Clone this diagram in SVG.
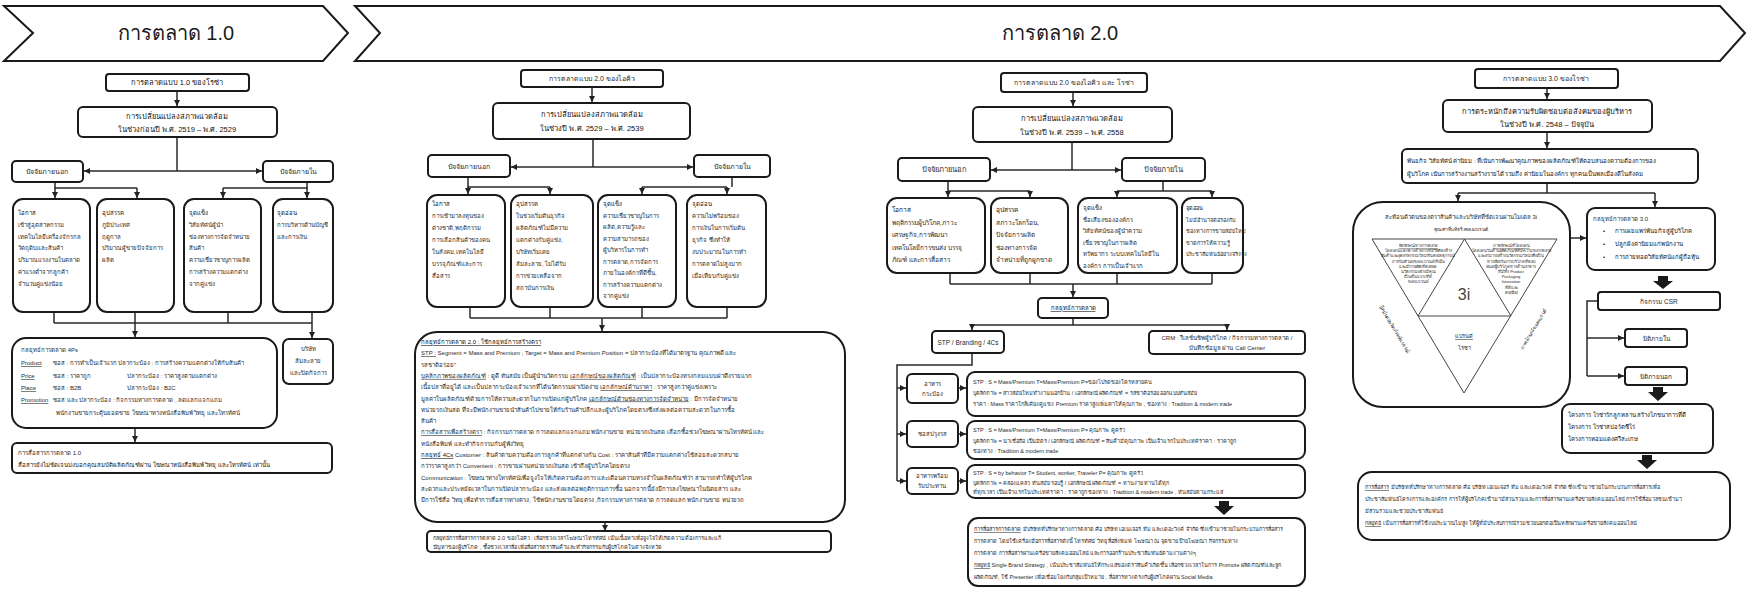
<svg xmlns="http://www.w3.org/2000/svg" width="1749" height="589" viewBox="0 0 1749 589">
<defs>
<marker id="ah" viewBox="0 0 10 10" refX="10" refY="5" markerWidth="6" markerHeight="6" markerUnits="userSpaceOnUse" orient="auto"><path d="M0,0 L10,5 L0,10 z" fill="#222"/></marker>
<style>
.bx{fill:#fff;stroke:#1a1a1a;stroke-width:2}
.c{fill:none;stroke:#2a2a2a;stroke-width:1.5}
.ca{fill:none;stroke:#2a2a2a;stroke-width:1.5;marker-end:url(#ah)}
.ba{fill:#1a1a1a}
.tri{fill:none;stroke:#444;stroke-width:1}
text{font-family:"Liberation Sans","Noto Sans","DejaVu Sans",sans-serif;fill:#2a2a2a}
.m{text-anchor:middle}
.f4{font-size:4px}
.f5{font-size:5px}
.f55{font-size:5.5px}
.f6{font-size:6px}
.f65{font-size:6.5px}
.f7{font-size:7px}
.f75{font-size:7.5px}
.f8{font-size:8px}
.ti{font-size:20px;fill:#1a1a1a}
.u{text-decoration:underline}
.h{fill:#111}
</style>
</defs>
<rect width="1749" height="589" fill="#fff"/>

<g id="banner1">
<path class="bx" d="M4,6 L323,6 L348,33 L323,61 L4,61 L33,33 Z"/>
<text class="ti m" x="176" y="40">การตลาด 1.0</text>
</g>
<g id="banner2">
<path class="bx" d="M355,6 L1720,6 L1745,33 L1720,61 L355,61 L380,33 Z"/>
<text class="ti m" x="1060" y="40">การตลาด 2.0</text>
</g>

<g id="connectors">
<path class="ca" d="M177,91 V106"/>
<path class="c" d="M177,137 V171"/>
<path class="ca" d="M177,171 H84"/>
<path class="ca" d="M177,171 H262"/>
<path class="c" d="M55,182 V188 H137"/>
<path class="ca" d="M55,188 V198"/>
<path class="ca" d="M137,188 V198"/>
<path class="c" d="M307,182 V188 H223"/>
<path class="ca" d="M223,188 V198"/>
<path class="ca" d="M307,188 V198"/>
<path class="c" d="M54,312 V323 M135,312 V323 M228,312 V323 M312,312 V323 M54,323 H312"/>
<path class="ca" d="M135,323 V337"/>
<path class="ca" d="M312,323 V338"/>
<path class="ca" d="M135,428 V442"/>

<path class="ca" d="M592,87 V102"/>
<path class="c" d="M593,139 V167"/>
<path class="ca" d="M593,167 H511"/>
<path class="ca" d="M593,167 H693"/>
<path class="c" d="M468,177 V187 H550"/>
<path class="ca" d="M468,187 V194"/>
<path class="ca" d="M550,187 V194"/>
<path class="c" d="M732,177 V187 M642,187 H727"/>
<path class="ca" d="M642,187 V194"/>
<path class="ca" d="M727,187 V194"/>
<path class="c" d="M470,307 V318 M550,307 V318 M642,307 V318 M727,307 V318 M470,318 H727"/>
<path class="ca" d="M602,318 V331"/>
<path class="ca" d="M605,522 V531"/>

<path class="ca" d="M1073,92 V106"/>
<path class="c" d="M1072,142 V170"/>
<path class="ca" d="M1072,170 H991"/>
<path class="ca" d="M1072,170 H1121"/>
<path class="c" d="M948,181 V191 H1030"/>
<path class="ca" d="M948,191 V197"/>
<path class="ca" d="M1030,191 V197"/>
<path class="c" d="M1163,181 V191 M1117,191 H1212"/>
<path class="ca" d="M1117,191 V197"/>
<path class="ca" d="M1212,191 V197"/>
<path class="c" d="M950,273 V284 M1030,273 V284 M1117,273 V284 M1212,273 V284 M950,284 H1212"/>
<path class="ca" d="M1073,284 V297"/>
<path class="c" d="M1073,318 V325 M972,325 H1227"/>
<path class="ca" d="M972,325 V330"/>
<path class="ca" d="M1227,325 V330"/>
<path class="c" d="M972,353 V365 H897 V481"/>
<path class="ca" d="M897,388 H906"/>
<path class="ca" d="M897,434 H906"/>
<path class="ca" d="M897,481 H906"/>
<path class="ca" d="M958,388 H966"/>
<path class="ca" d="M958,434 H966"/>
<path class="ca" d="M958,481 H966"/>
<path class="ba" d="M1219,501 h10 v5 h5 l-10,9 l-10,-9 h5 z"/>

<path class="ca" d="M1547,88 V99"/>
<path class="ca" d="M1547,132 V148"/>
<path class="c" d="M1547,183 V193 M1458,193 H1655"/>
<path class="ca" d="M1458,193 V201"/>
<path class="ca" d="M1655,193 V207"/>
<path class="ca" d="M1571,238 H1586"/>
<path class="ba" d="M1658,276 h10 v5 h5 l-10,8 l-10,-8 h5 z"/>
<path class="c" d="M1598,301 H1587 V376"/>
<path class="ca" d="M1587,338 H1624"/>
<path class="ca" d="M1587,376 H1624"/>
<path class="ba" d="M1653,387 h10 v5 h5 l-10,9 l-10,-9 h5 z"/>
<path class="ba" d="M1642,455 h10 v5 h5 l-10,9 l-10,-9 h5 z"/>
</g>

<g id="s1-title">
<rect class="bx" x="106" y="74" width="143" height="17" rx="3"/>
<text class="f75 m h" x="177" y="85">การตลาดแบบ 1.0 ของโรซ่า</text>
</g>
<g id="s1-env">
<rect class="bx" x="78" y="107" width="199" height="30" rx="5"/>
<text class="f75 m h" x="177" y="119">การเปลี่ยนแปลงสภาพแวดล้อม</text>
<text class="f75 m h" x="177" y="132">ในช่วงก่อนปี พ.ศ. 2519 – พ.ศ. 2529</text>
</g>
<g id="s1-ext">
<rect class="bx" x="12" y="161" width="71" height="21" rx="4"/>
<text class="f7 m" x="47" y="174">ปัจจัยภายนอก</text>
</g>
<g id="s1-int">
<rect class="bx" x="263" y="161" width="70" height="21" rx="4"/>
<text class="f7 m" x="298" y="174">ปัจจัยภายใน</text>
</g>
<g id="s1-opp">
<rect class="bx" x="13" y="199" width="77" height="113" rx="10"/>
<text class="f6" x="18" y="215"><tspan class="h">โอกาส</tspan><tspan x="18" dy="11.8">เข้าสู่อุตสาหกรรม</tspan><tspan x="18" dy="11.8">เทคโนโลยีเครื่องจักรกล</tspan><tspan x="18" dy="11.8">วัตถุดิบและสินค้า</tspan><tspan x="18" dy="11.8">ปริมาณแรงงานในตลาด</tspan><tspan x="18" dy="11.8">ค่าแรงต่ำจากลูกค้า</tspan><tspan x="18" dy="11.8">จำนวนคู่แข่งน้อย</tspan></text>
</g>
<g id="s1-thr">
<rect class="bx" x="97" y="199" width="77" height="113" rx="10"/>
<text class="f6" x="102" y="215"><tspan class="h">อุปสรรค</tspan><tspan x="102" dy="11.8">ภูมิประเทศ</tspan><tspan x="102" dy="11.8">ฤดูกาล</tspan><tspan x="102" dy="11.8">ปริมาณผู้ขายปัจจัยการ</tspan><tspan x="102" dy="11.8">ผลิต</tspan></text>
</g>
<g id="s1-str">
<rect class="bx" x="184" y="199" width="77" height="113" rx="10"/>
<text class="f6" x="189" y="215"><tspan class="h">จุดแข็ง</tspan><tspan x="189" dy="11.8">วิสัยทัศน์ผู้นำ</tspan><tspan x="189" dy="11.8">ช่องทางการจัดจำหน่าย</tspan><tspan x="189" dy="11.8">สินค้า</tspan><tspan x="189" dy="11.8">ความเชี่ยวชาญการผลิต</tspan><tspan x="189" dy="11.8">การสร้างความแตกต่าง</tspan><tspan x="189" dy="11.8">จากคู่แข่ง</tspan></text>
</g>
<g id="s1-weak">
<rect class="bx" x="273" y="199" width="60" height="113" rx="10"/>
<text class="f6" x="277" y="215"><tspan class="h">จุดอ่อน</tspan><tspan x="277" dy="11.8">การบริหารด้านบัญชี</tspan><tspan x="277" dy="11.8">และการเงิน</tspan></text>
</g>
<g id="s1-4ps">
<rect class="bx" x="12" y="338" width="265" height="90" rx="14"/>
<text class="f6" x="21" y="352">กลยุทธ์การตลาด 4Ps</text>
<text class="f6" x="21" y="365"><tspan class="u">Product</tspan><tspan x="53">ซอส : การทำเป็นเจ้าแรก</tspan><tspan x="118">ปลากระป๋อง : การสร้างความแตกต่างให้กับสินค้า</tspan></text>
<text class="f6" x="21" y="378"><tspan class="u">Price</tspan><tspan x="53">ซอส : ราคาถูก</tspan><tspan x="127">ปลากระป๋อง : ราคาสูงตามแตกต่าง</tspan></text>
<text class="f6" x="21" y="390"><tspan class="u">Place</tspan><tspan x="53">ซอส : B2B</tspan><tspan x="127">ปลากระป๋อง : B2C</tspan></text>
<text class="f6" x="21" y="402"><tspan class="u">Promotion</tspan><tspan x="53">ซอส และ ปลากระป๋อง : กิจกรรมทางการตลาด , ลดแลกแจกแถม</tspan></text>
<text class="f6" x="56" y="415">พนักงานขายกระตุ้นยอดขาย โฆษณาทางหนังสือพิมพ์ วิทยุ และโทรทัศน์</text>
</g>
<g id="s1-bankrupt">
<rect class="bx" x="283" y="339" width="50" height="45" rx="6"/>
<text class="f6 m" x="308" y="351"><tspan>บริษัท</tspan><tspan x="308" dy="12">ล้มละลาย</tspan><tspan x="308" dy="12">และปิดกิจการ</tspan></text>
</g>
<g id="s1-comm">
<rect class="bx" x="12" y="443" width="320" height="30" rx="5"/>
<text class="f6" x="18" y="455">การสื่อสารการตลาด 1.0</text>
<text class="f6 h" x="18" y="467">สื่อสารยังไม่ชัดเจนบ่งบอกคุณสมบัติผลิตภัณฑ์ผ่าน โฆษณาหนังสือพิมพ์ วิทยุ และโทรทัศน์ เท่านั้น</text>
</g>

<g id="s2a-title">
<rect class="bx" x="521" y="70" width="142" height="17" rx="3"/>
<text class="f7 m" x="592" y="81">การตลาดแบบ 2.0 ของไอคิว</text>
</g>
<g id="s2a-env">
<rect class="bx" x="493" y="103" width="197" height="36" rx="5"/>
<text class="f75 m h" x="592" y="117">การเปลี่ยนแปลงสภาพแวดล้อม</text>
<text class="f75 m h" x="592" y="131">ในช่วงปี พ.ศ. 2529 – พ.ศ. 2539</text>
</g>
<g id="s2a-ext">
<rect class="bx" x="428" y="155" width="82" height="22" rx="4"/>
<text class="f7 m" x="469" y="169">ปัจจัยภายนอก</text>
</g>
<g id="s2a-int">
<rect class="bx" x="694" y="155" width="76" height="22" rx="4"/>
<text class="f7 m" x="732" y="169">ปัจจัยภายใน</text>
</g>
<g id="s2a-opp">
<rect class="bx" x="427" y="195" width="78" height="112" rx="10"/>
<text class="f6" x="432" y="206"><tspan class="h">โอกาส</tspan><tspan x="432" dy="12">การเข้ามาลงทุนของ</tspan><tspan x="432" dy="12">ต่างชาติ,พฤติกรรม</tspan><tspan x="432" dy="12">การเลือกสินค้าของคน</tspan><tspan x="432" dy="12">ในสังคม,เทคโนโลยี</tspan><tspan x="432" dy="12">บรรจุภัณฑ์และการ</tspan><tspan x="432" dy="12">สื่อสาร</tspan></text>
</g>
<g id="s2a-thr">
<rect class="bx" x="511" y="195" width="82" height="112" rx="10"/>
<text class="f6" x="516" y="206"><tspan class="h">อุปสรรค</tspan><tspan x="516" dy="12">ในช่วงเริ่มต้นธุรกิจ</tspan><tspan x="516" dy="12">ผลิตภัณฑ์ไม่มีความ</tspan><tspan x="516" dy="12">แตกต่างกับคู่แข่ง,</tspan><tspan x="516" dy="12">บริษัทเริ่มเคย</tspan><tspan x="516" dy="12">ล้มละลาย, ไม่ได้รับ</tspan><tspan x="516" dy="12">การช่วยเหลือจาก</tspan><tspan x="516" dy="12">สถาบันการเงิน</tspan></text>
</g>
<g id="s2a-str">
<rect class="bx" x="598" y="195" width="78" height="112" rx="10"/>
<text class="f6" x="603" y="206"><tspan class="h">จุดแข็ง</tspan><tspan x="603" dy="11.5">ความเชี่ยวชาญในการ</tspan><tspan x="603" dy="11.5">ผลิต,ความรู้และ</tspan><tspan x="603" dy="11.5">ความสามารถของ</tspan><tspan x="603" dy="11.5">ผู้บริหารในการทำ</tspan><tspan x="603" dy="11.5">การตลาด,การจัดการ</tspan><tspan x="603" dy="11.5">ภายในองค์กรที่ดีขึ้น,</tspan><tspan x="603" dy="11.5">การสร้างความแตกต่าง</tspan><tspan x="603" dy="11.5">จากคู่แข่ง</tspan></text>
</g>
<g id="s2a-weak">
<rect class="bx" x="687" y="195" width="79" height="112" rx="10"/>
<text class="f6" x="692" y="206"><tspan class="h">จุดอ่อน</tspan><tspan x="692" dy="12">ความไม่พร้อมของ</tspan><tspan x="692" dy="12">การเงินในการเริ่มต้น</tspan><tspan x="692" dy="12">ธุรกิจ ซึ่งทำให้</tspan><tspan x="692" dy="12">งบประมาณในการทำ</tspan><tspan x="692" dy="12">การตลาดไม่สูงมาก</tspan><tspan x="692" dy="12">เมื่อเทียบกับคู่แข่ง</tspan></text>
</g>
<g id="s2a-strategy">
<rect class="bx" x="415" y="332" width="430" height="190" rx="22"/>
<text class="f6" x="421" y="344">
<tspan class="u h">กลยุทธ์การตลาด 2.0 : ใช้กลยุทธ์การสร้างตรา</tspan>
<tspan x="421" dy="11.3"><tspan class="u">STP :</tspan> Segment = Mass and Premium , Target = Mass and Premium  Position = ปลากระป๋องที่ได้มาตรฐาน คุณภาพดี และ</tspan>
<tspan x="421" dy="11.3">รสชาติอร่อย"</tspan>
<tspan x="421" dy="11.3"><tspan class="u">บุคลิกภาพของผลิตภัณฑ์</tspan> : ดูดี ทันสมัย เป็นผู้นำนวัตกรรม <tspan class="u">เอกลักษณ์ของผลิตภัณฑ์</tspan> : เป็นปลากระป๋องทรงกลมแบบฝาดึงรายแรก</tspan>
<tspan x="421" dy="11.3">เนื้อปลาที่อยู่ได้ และเป็นปลากระป๋องเจ้าแรกที่ได้นวัตกรรมฝาเปิดง่าย <tspan class="u">เอกลักษณ์ด้านราคา</tspan> : ราคาสูงกว่าคู่แข่งเพราะ</tspan>
<tspan x="421" dy="11.3">มูลค่าในผลิตภัณฑ์ด้วยการให้ความสะดวกในการเปิดแก่ผู้บริโภค <tspan class="u">เอกลักษณ์ด้านช่องทางการจัดจำหน่าย</tspan> : มีการจัดจำหน่าย</tspan>
<tspan x="421" dy="11.3">หน่วยรถเงินสด ที่จะมีพนักงานขายนำสินค้าไปขายให้กับร้านค้าปลีกและผู้บริโภคโดยตรงซึ่งส่งผลต่อความสะดวกในการซื้อ</tspan>
<tspan x="421" dy="11.3">สินค้า</tspan>
<tspan x="421" dy="11.3"><tspan class="u">การสื่อสารเพื่อสร้างตรา</tspan> : กิจกรรมการตลาด การลดแลกแจกแถม พนักงานขาย หน่วยรถเงินสด เลือกซื้อช่วงโฆษณาผ่านโทรทัศน์ และ</tspan>
<tspan x="421" dy="11.3">หนังสือพิมพ์ และทำกิจกรรมกับผู้ฟังวิทยุ</tspan>
<tspan x="421" dy="11.3"><tspan class="u h">กลยุทธ์ 4Cs</tspan> Customer : สินค้าตามความต้องการลูกค้าที่แตกต่างกัน Cost : ราคาสินค้าที่มีความแตกต่างใช้สอยสะดวกสบาย</tspan>
<tspan x="421" dy="11.3">กว่าราคาสูงกว่า Convenient : การขายผ่านหน่วยรถเงินสด เข้าถึงผู้บริโภคโดยตรง</tspan>
<tspan x="421" dy="11.3">Communication : โฆษณาทางโทรทัศน์เพื่อจูงใจให้เกิดความต้องการ และเตือนความทรงจำในผลิตภัณฑ์ว่า สามารถทำให้ผู้บริโภค</tspan>
<tspan x="421" dy="11.3">สะดวกและประหยัดเวลาในการเปิดปลากระป๋อง และส่งผลต่อพฤติกรรมการซื้อ นอกจากนี้ยังมีการลงโฆษณาในนิตยสาร และ</tspan>
<tspan x="421" dy="11.3">มีการใช้สื่อ วิทยุ เพื่อทำการสื่อสารทางตรง, ใช้พนักงานขายโดยตรง ,กิจกรรมทางการตลาด การลดแลก พนักงานขาย หน่วยรถ</tspan>
</text>
</g>
<g id="s2a-comm">
<rect class="bx" x="427" y="531" width="404" height="21" rx="4"/>
<text class="f55" x="433" y="540">กลยุทธ์การสื่อสารการตลาด 2.0  ของไอคิว : เลือกช่วงเวลาโฆษณาโทรทัศน์ เน้นเนื้อหาเพื่อจูงใจให้เกิดความต้องการและแก้</text>
<text class="f55" x="433" y="549">ปัญหาของผู้บริโภค , ซื้อช่วงเวลาสื่อ เพื่อสื่อสารตราสินค้าและทำกิจกรรมกับผู้บริโภคในต่างจังหวัด</text>
</g>

<g id="s2b-title">
<rect class="bx" x="1001" y="73" width="146" height="19" rx="3"/>
<text class="f7 m" x="1074" y="85">การตลาดแบบ 2.0 ของไอคิว และ โรซ่า</text>
</g>
<g id="s2b-env">
<rect class="bx" x="973" y="107" width="199" height="35" rx="5"/>
<text class="f75 m h" x="1072" y="121">การเปลี่ยนแปลงสภาพแวดล้อม</text>
<text class="f75 m h" x="1072" y="135">ในช่วงปี พ.ศ. 2539 – พ.ศ. 2558</text>
</g>
<g id="s2b-ext">
<rect class="bx" x="898" y="158" width="92" height="23" rx="4"/>
<text class="f75 m" x="944" y="172">ปัจจัยภายนอก</text>
</g>
<g id="s2b-int">
<rect class="bx" x="1122" y="158" width="83" height="23" rx="4"/>
<text class="f75 m" x="1163" y="172">ปัจจัยภายใน</text>
</g>
<g id="s2b-opp">
<rect class="bx" x="887" y="198" width="98" height="75" rx="10"/>
<text class="f65" x="892" y="212"><tspan class="h">โอกาส</tspan><tspan x="892" dy="12.5">พฤติกรรมผู้บริโภค,ภาวะ</tspan><tspan x="892" dy="12.5">เศรษฐกิจ,การพัฒนา</tspan><tspan x="892" dy="12.5">เทคโนโลยีการขนส่ง บรรจุ</tspan><tspan x="892" dy="12.5">ภัณฑ์ และการสื่อสาร</tspan></text>
</g>
<g id="s2b-thr">
<rect class="bx" x="991" y="198" width="77" height="75" rx="10"/>
<text class="f65" x="996" y="212"><tspan class="h">อุปสรรค</tspan><tspan x="996" dy="12.5">สภาวะโลกร้อน,</tspan><tspan x="996" dy="12.5">ปัจจัยการผลิต</tspan><tspan x="996" dy="12.5">ช่องทางการจัด</tspan><tspan x="996" dy="12.5">จำหน่ายที่ถูกผูกขาด</tspan></text>
</g>
<g id="s2b-str">
<rect class="bx" x="1078" y="198" width="99" height="75" rx="10"/>
<text class="f6" x="1083" y="210"><tspan class="h">จุดแข็ง</tspan><tspan x="1083" dy="11.5">ชื่อเสียงขององค์กร</tspan><tspan x="1083" dy="11.5">วิสัยทัศน์ของผู้นำความ</tspan><tspan x="1083" dy="11.5">เชี่ยวชาญในการผลิต</tspan><tspan x="1083" dy="11.5">ทรัพยากร ระบบเทคโนโลยีใน</tspan><tspan x="1083" dy="11.5">องค์กร การเป็นเจ้าแรก</tspan></text>
</g>
<g id="s2b-weak">
<rect class="bx" x="1182" y="198" width="61" height="75" rx="10"/>
<text class="f55" x="1186" y="210"><tspan class="h">จุดอ่อน</tspan><tspan x="1186" dy="11.5">ไม่มีอำนาจต่อรองกับ</tspan><tspan x="1186" dy="11.5">ช่องทางการขายสมัยใหม่</tspan><tspan x="1186" dy="11.5">ขาดการให้ความรู้</tspan><tspan x="1186" dy="11.5">ประชาสัมพันธ์อย่างจริงจัง</tspan></text>
</g>
<g id="s2b-strategy">
<rect class="bx" x="1038" y="298" width="70" height="20" rx="4"/>
<text class="f6 m u h" x="1073" y="310">กลยุทธ์การตลาด</text>
</g>
<g id="s2b-stp">
<rect class="bx" x="932" y="331" width="72" height="22" rx="4"/>
<text class="f65 m" x="968" y="345">STP / Branding / 4Cs</text>
</g>
<g id="s2b-crm">
<rect class="bx" x="1149" y="331" width="156" height="23" rx="4"/>
<text class="f6 m" x="1227" y="340">CRM : รีเลชั่นชิพผู้บริโภค / กิจกรรมทางการตลาด /</text>
<text class="f6 m" x="1227" y="350">บันทึกข้อมูล ผ่าน Call Center</text>
</g>
<g id="s2b-can">
<rect class="bx" x="907" y="374" width="51" height="29" rx="5"/>
<text class="f6 m" x="932" y="386"><tspan>อาหาร</tspan><tspan x="932" dy="10">กระป๋อง</tspan></text>
</g>
<g id="s2b-sauce">
<rect class="bx" x="907" y="421" width="51" height="26" rx="5"/>
<text class="f6 m" x="932" y="436">ซอสปรุงรส</text>
</g>
<g id="s2b-rte">
<rect class="bx" x="907" y="468" width="51" height="26" rx="5"/>
<text class="f6 m" x="932" y="478"><tspan>อาหารพร้อม</tspan><tspan x="932" dy="10">รับประทาน</tspan></text>
</g>
<g id="s2b-d1">
<rect class="bx" x="967" y="372" width="338" height="44" rx="8"/>
<text class="f55" x="973" y="384"><tspan>STP : S = Mass/Premium T=Mass/Premium P=ของโปรดของใครหลายคน</tspan><tspan x="973" dy="11">บุคลิกภาพ = สาวสมัยใหม่ทำงานนอกบ้าน / เอกลักษณ์ ผลิตภัณฑ์ = รสชาติอร่อย ออกแบบทันสมัย</tspan><tspan x="973" dy="11">ราคา : Mass ราคาใกล้เคียงคู่แข่ง Premium ราคาสูงเพิ่มค่าให้คุณภาพ , ช่องทาง : Tradition &amp; modern trade</tspan></text>
</g>
<g id="s2b-d2">
<rect class="bx" x="967" y="421" width="338" height="38" rx="8"/>
<text class="f55" x="973" y="432"><tspan>STP : S = Mass/Premium T=Mass/Premium P= คุณภาพ คู่ครัว</tspan><tspan x="973" dy="10.5">บุคลิกภาพ = น่าเชื่อถือ เป็นมิตร / เอกลักษณ์ ผลิตภัณฑ์ = สินค้ามีคุณภาพ เป็นเจ้าแรกในประเทศ ราคา : ราคาถูก</tspan><tspan x="973" dy="10.5">ช่องทาง : Tradition &amp; modern trade</tspan></text>
</g>
<g id="s2b-d3">
<rect class="bx" x="967" y="465" width="338" height="33" rx="8"/>
<text class="f55" x="973" y="475"><tspan>STP : S = by behavior T= Student, worker, Traveler P= คุณภาพ คู่ครัว</tspan><tspan x="973" dy="9.5">บุคลิกภาพ = คล่องแคล่ว ทันสมัย รอบรู้ / เอกลักษณ์ ผลิตภัณฑ์ = ทานง่าย ทานได้ทุก</tspan><tspan x="973" dy="9.5">ที่ทุกเวลา เป็นเจ้าแรกในประเทศ ราคา : ราคาถูก ช่องทาง : Tradition &amp; modern trade , ทันสมัยตามกระแส</tspan></text>
</g>
<g id="s2b-comm">
<rect class="bx" x="968" y="518" width="337" height="68" rx="10"/>
<text class="f55" x="974" y="531"><tspan><tspan class="u">การสื่อสารการตลาด</tspan> มีบริษัทที่ปรึกษาทางการตลาด คือ บริษัท เอเนเจอร์ ทีม และเดอะวิงค์ จำกัด ซึ่งเข้ามาช่วยในกระบวนการสื่อสาร</tspan><tspan x="974" dy="12">การตลาด โดยใช้เครื่องมือการสื่อสารดังนี้ โทรทัศน์ วิทยุ สื่อสิ่งพิมพ์ โฆษณา ณ จุดขาย ป้ายโฆษณา กิจกรรมทาง</tspan><tspan x="974" dy="12">การตลาด การสื่อสารผ่านเครือข่ายสังคมออนไลน์ และการออกร้านประชาสัมพันธ์ตามงานต่างๆ</tspan><tspan x="974" dy="12"><tspan class="u">กลยุทธ์</tspan> Single Brand Strategy , เน้นประชาสัมพันธ์ให้กระแสของตราสินค้าเกิดขึ้น เลือกช่วงเวลาในการ Promote ผลิตภัณฑ์และลูก</tspan><tspan x="974" dy="12">ผลิตภัณฑ์, ใช้ Presenter เพื่อเชื่อมโยงกับกลุ่มเป้าหมาย , สื่อสารทางตรงกับผู้บริโภคผ่าน Social Media</tspan></text>
</g>

<g id="s3-title">
<rect class="bx" x="1475" y="69" width="143" height="19" rx="3"/>
<text class="f7 m" x="1546" y="81">การตลาดแบบ 3.0 ของโรซ่า</text>
</g>
<g id="s3-csr">
<rect class="bx" x="1443" y="100" width="209" height="32" rx="5"/>
<text class="f75 m h" x="1547" y="114">การตระหนักถึงความรับผิดชอบต่อสังคมของผู้บริหาร</text>
<text class="f75 m h" x="1547" y="127">ในช่วงปี พ.ศ. 2548 – ปัจจุบัน</text>
</g>
<g id="s3-mission">
<rect class="bx" x="1402" y="149" width="296" height="34" rx="5"/>
<text class="f6 h" x="1407" y="163">พันธกิจ วิสัยทัศน์ ค่านิยม : ที่เน้นการพัฒนาคุณภาพของผลิตภัณฑ์ให้ตอบสนองความต้องการของ</text>
<text class="f6 h" x="1407" y="176">ผู้บริโภค เน้นการสร้างงานสร้างรายได้ รวมถึง ค่านิยมในองค์กร ทุกคนเป็นพลเมืองดีในสังคม</text>
</g>
<g id="s3-3i">
<rect class="bx" x="1353" y="202" width="217" height="205" rx="30"/>
<text class="f6 m" x="1461" y="219">สะท้อนตัวตนของตราสินค้าและบริษัทที่ชัดเจนผ่านโมเดล 3i</text>
<text class="f5 m" x="1461" y="231" fill="#666">คุณค่าที่แท้จริงของแบรนด์</text>
<path class="tri" d="M1372,239 L1557,239 L1464,393 Z"/>
<path class="tri" d="M1418,316 L1511,316 L1464.5,239 Z"/>
<text class="m" x="1464" y="300" style="font-size:16px;fill:#444">3i</text>
<text class="f4 m" x="1418" y="247"><tspan class="u">อัตลักษณ์ทางการตลาด</tspan><tspan x="1418" dy="5.2">โดดเด่นแตกต่างด้วยการที่มีวิธีคิดสร้าง</tspan><tspan x="1418" dy="5.2">สินค้าและอุตสาหกรรมใหม่ทันต่อเหตุการณ์</tspan><tspan x="1418" dy="5.2">ภายในตัวเองของแบรนด์ที่เน้น</tspan><tspan x="1418" dy="5.2">และมีการผลิตที่ต่อยอด</tspan><tspan x="1418" dy="5.2">นวัตกรรมอย่างมีคุณ</tspan><tspan x="1418" dy="5.2">เป็นต้นแบบที่ดี</tspan><tspan x="1418" dy="5.2">ของแบรนด์</tspan></text>
<text class="f4 m" x="1511" y="247"><tspan class="u">ภาพลักษณ์ที่โดดเด่น</tspan><tspan x="1511" dy="5.2">โดดเด่นในด้านผลิตภัณฑ์ที่มีความหลากหลาย</tspan><tspan x="1511" dy="5.2">และสามารถสร้างนวัตกรรมใหม่เพื่อเป็น</tspan><tspan x="1511" dy="5.2">ทางเลือกในการบริโภคที่ตอบ</tspan><tspan x="1511" dy="5.2">สนองผู้บริโภคทางด้านอาหาร</tspan><tspan x="1511" dy="5.2">ที่มีทั้ง Product</tspan><tspan x="1511" dy="5.2">Packaging</tspan><tspan x="1511" dy="5.2">Innovation</tspan><tspan x="1511" dy="5.2">ที่ดีและ</tspan><tspan x="1511" dy="5.2">ต่อเนื่อง</tspan></text>
<text class="f55 m u" x="1464" y="338">แบรนด์</text>
<text class="f55 m" x="1464" y="350">โรซ่า</text>
<text class="f5 m" x="0" y="0" fill="#555" transform="translate(1393,330) rotate(59)">ยึดมั่นต่อผลิตภัณฑ์แบรนด์</text>
<text class="f5 m" x="0" y="0" fill="#555" transform="translate(1535,330) rotate(-59)">ภาพลักษณ์ของแบรนด์</text>
</g>
<g id="s3-strategy">
<rect class="bx" x="1587" y="208" width="128" height="62" rx="8"/>
<text class="f6" x="1593" y="221">กลยุทธ์การตลาด 3.0</text>
<text class="f6 h" x="1603" y="233">•<tspan x="1615">การเผยแพร่พันธกิจสู่ผู้บริโภค</tspan></text>
<text class="f6 h" x="1603" y="246">•<tspan x="1615">ปลูกฝังค่านิยมแก่พนักงาน</tspan></text>
<text class="f6 h" x="1603" y="259">•<tspan x="1615">การถ่ายทอดวิสัยทัศน์แก่ผู้ถือหุ้น</tspan></text>
</g>
<g id="s3-csract">
<rect class="bx" x="1598" y="292" width="122" height="18" rx="3"/>
<text class="f65 m" x="1659" y="304">กิจกรรม CSR</text>
</g>
<g id="s3-in">
<rect class="bx" x="1625" y="329" width="62" height="18" rx="3"/>
<text class="f65 m" x="1656" y="341">มิติภายใน</text>
</g>
<g id="s3-out">
<rect class="bx" x="1625" y="367" width="62" height="18" rx="3"/>
<text class="f65 m" x="1656" y="379">มิติภายนอก</text>
</g>
<g id="s3-projects">
<rect class="bx" x="1562" y="404" width="151" height="49" rx="8"/>
<text class="f6 h" x="1568" y="417"><tspan>โครงการ โรซ่ารักลูกหลาน สร้างโภชนาการที่ดี</tspan><tspan x="1568" dy="12">โครงการ โรซ่าสปอร์ตซีโร่</tspan><tspan x="1568" dy="12">โครงการหอมแดงศรีสะเกษ</tspan></text>
</g>
<g id="s3-comm">
<rect class="bx" x="1358" y="472" width="372" height="68" rx="14"/>
<text class="f55" x="1365" y="489"><tspan><tspan class="u">การสื่อสาร</tspan> มีบริษัทที่ปรึกษาทางการตลาด คือ บริษัท เอเนเจอร์ ทีม และเดอะวิงค์ จำกัด ซึ่งเข้ามาช่วยในกระบวนการสื่อสารเพื่อ</tspan><tspan x="1365" dy="12">ประชาสัมพันธ์โครงการและองค์กร การให้ผู้บริโภคเข้ามามีส่วนร่วมและการสื่อสารผ่านเครือข่ายสังคมออนไลน์ การใช้สื่อมวลชนเข้ามา</tspan><tspan x="1365" dy="12">มีส่วนร่วมและช่วยประชาสัมพันธ์</tspan><tspan x="1365" dy="12"><tspan class="u">กลยุทธ์</tspan> เน้นการสื่อสารที่ใช้งบประมาณไม่สูง ให้ผู้ที่มีประสบการณ์ร่วมช่วยบอกต่อเป็นหลักผ่านเครือข่ายสังคมออนไลน์</tspan></text>
</g>
</svg>
